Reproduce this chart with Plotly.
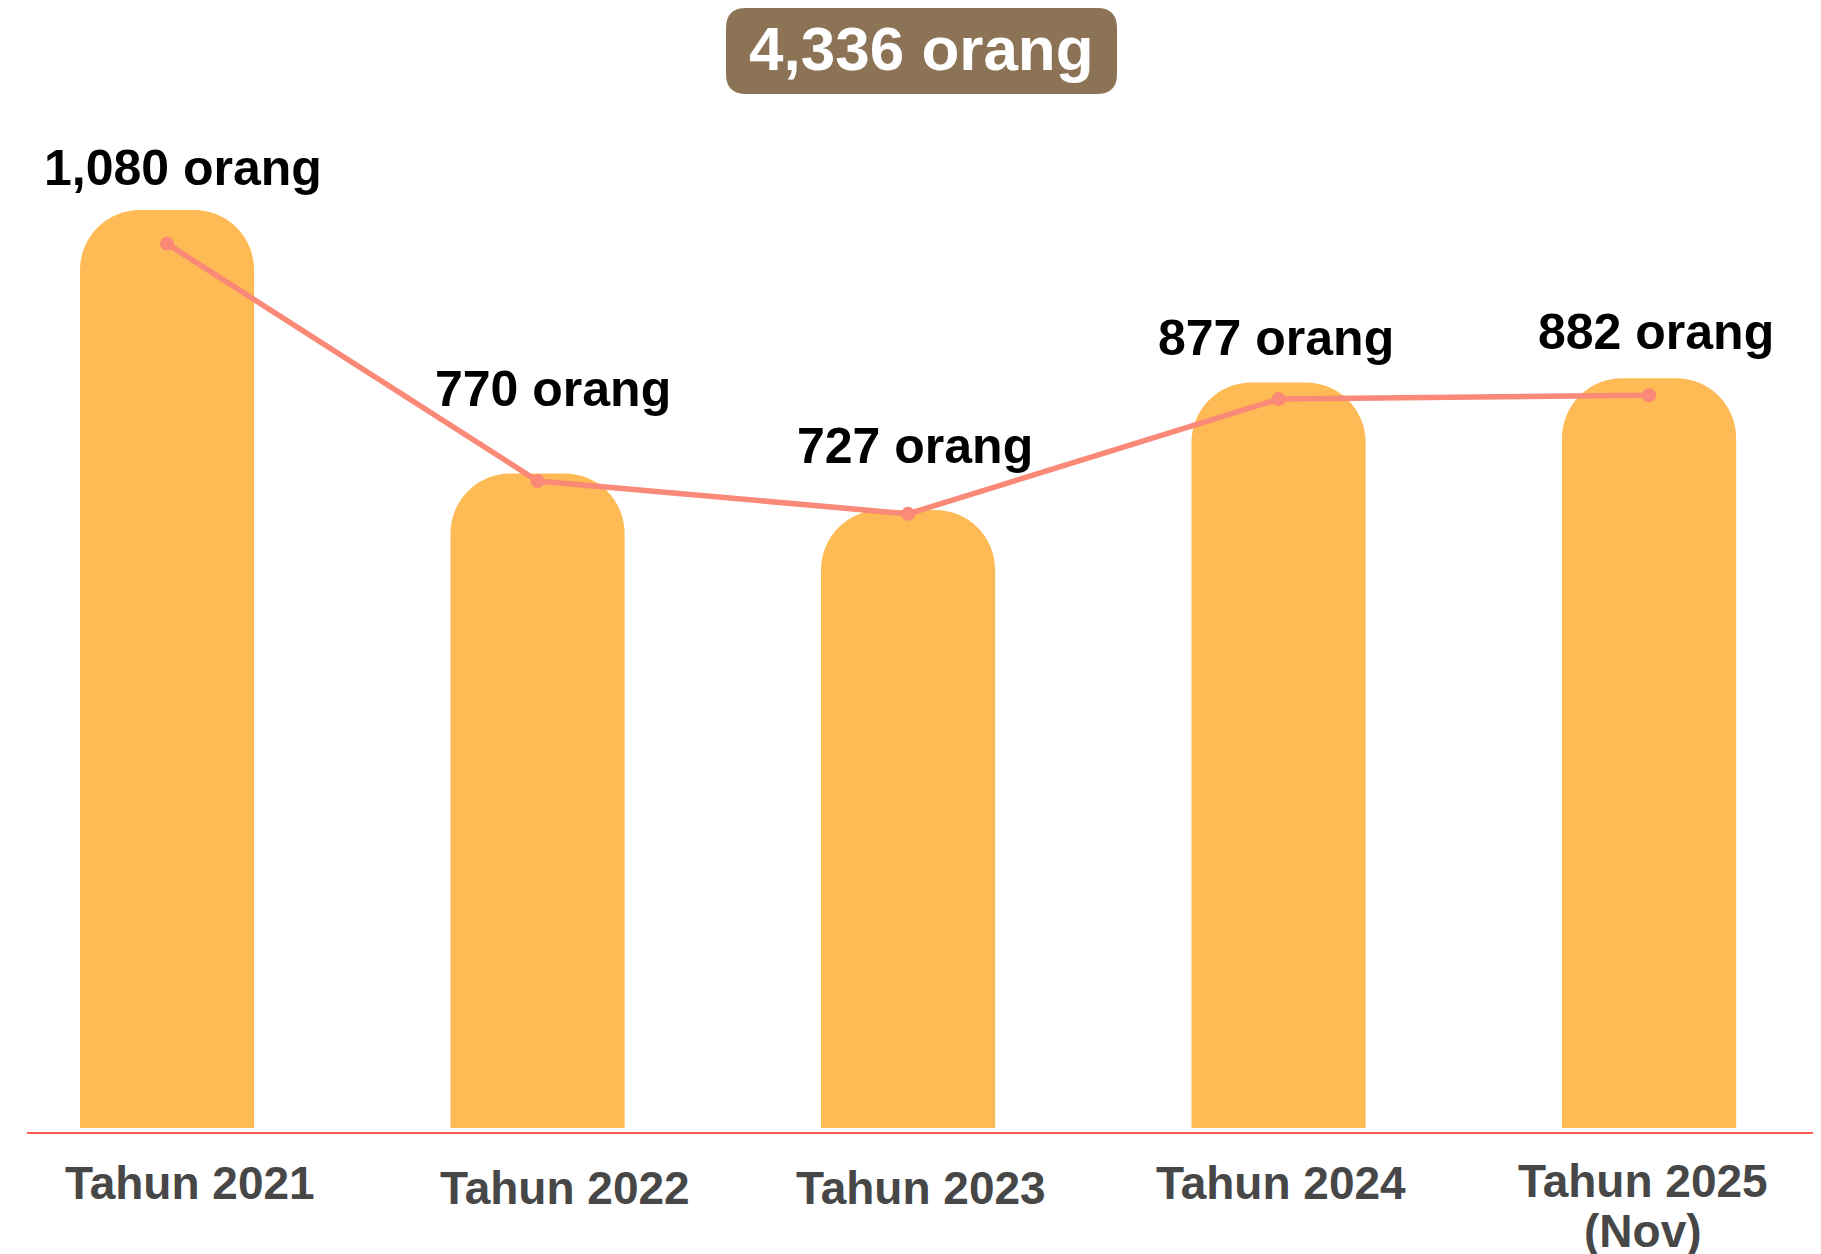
import plotly.graph_objects as go

categories = ["Tahun 2021", "Tahun 2022", "Tahun 2023", "Tahun 2024", "Tahun 2025<br>(Nov)"]
values = [1080, 770, 727, 877, 882]
unit = "orang"

# page has an 8px body margin; figure sized to fit the window
OFF = 8
W, H = 1821 - OFF, 1254 - OFF
AXIS_Y = 1132            # page y of the baseline
PLOT_TOP = 108           # page y of plot-area top
ML, MR, MT, MB = 27 - OFF, 0, PLOT_TOP - OFF, 1254 - AXIS_Y
PW, PH = W - ML - MR, H - MT - MB

BAR_COLOR = "#FDBA55"
LINE_COLOR = "#FA8977"
AXIS_COLOR = "#FF5A4A"
BOX_COLOR = "#8C7356"
TICK_COLOR = "#474747"

fig = go.Figure()
xs = list(range(len(categories)))
fig.add_trace(go.Bar(x=xs, y=values, width=0.47, marker=dict(color=BAR_COLOR, line=dict(width=0)),
                     hoverinfo="skip", yaxis="y"))
fig.add_trace(go.Scatter(x=xs, y=values, mode="lines+markers", yaxis="y2",
                         line=dict(color=LINE_COLOR, width=5.5),
                         marker=dict(color=LINE_COLOR, size=14), hoverinfo="skip"))

# value labels
label_yshift = [42, 85, 64, 45, 46]
label_xshift = [16, 15, 7, -3, 7]
for i, v in enumerate(values):
    fig.add_annotation(x=xs[i], y=v, xref="x", yref="y", text=f"{v:,} {unit}",
                       showarrow=False, yanchor="middle", xanchor="center",
                       yshift=label_yshift[i], xshift=label_xshift[i],
                       font=dict(family="Liberation Sans, Arial, sans-serif", size=50,
                                 color="#000000", weight="bold"))

# category labels under the baseline
cat_xshift = [23, 27, 13, 2, -6]
cat_yshift = [-51, -56, -56, -51, -49]
LINE_GAP = 50
for i, cat in enumerate(categories):
    for j, line in enumerate(cat.split("<br>")):
        fig.add_annotation(x=xs[i], y=0, xref="x", yref="paper", text=line,
                           showarrow=False, xanchor="center", yanchor="middle",
                           xshift=cat_xshift[i], yshift=cat_yshift[i] - j * LINE_GAP,
                           font=dict(family="Liberation Sans, Arial, sans-serif", size=46,
                                     color=TICK_COLOR, weight="bold"))

# total box (page pixel coords -> paper)
def px2paper(px, py):
    return (px - OFF - ML) / PW, (H - MB - (py - OFF)) / PH

bx0, by0, bx1, by1, r = 726, OFF, 1117, 94, 20
def P(px, py):
    x, y = px2paper(px, py)
    return f"{x:.5f},{y:.5f}"
path = (f"M {P(bx0 + r, by0)} L {P(bx1 - r, by0)} Q {P(bx1, by0)} {P(bx1, by0 + r)} "
        f"L {P(bx1, by1 - r)} Q {P(bx1, by1)} {P(bx1 - r, by1)} "
        f"L {P(bx0 + r, by1)} Q {P(bx0, by1)} {P(bx0, by1 - r)} "
        f"L {P(bx0, by0 + r)} Q {P(bx0, by0)} {P(bx0 + r, by0)} Z")
fig.add_shape(type="path", path=path, xref="paper", yref="paper",
              fillcolor=BOX_COLOR, line=dict(width=0), layer="above")
tx, ty = px2paper((bx0 + bx1) / 2, 48)
fig.add_annotation(x=tx, y=ty, xref="paper", yref="paper", text=f"{sum(values):,} {unit}",
                   showarrow=False, xanchor="center", yanchor="middle",
                   font=dict(family="Liberation Sans, Arial, sans-serif", size=62,
                             color="#FFFFFF", weight="bold"))

fig.update_layout(
    width=W, height=H, margin=dict(l=ML, r=MR, t=MT, b=MB, autoexpand=False),
    paper_bgcolor="white", plot_bgcolor="white", showlegend=False,
    barcornerradius=60,
    xaxis=dict(range=[-0.378, 4.464], tickmode="array", tickvals=xs, showticklabels=False,
               showgrid=False, zeroline=False, showline=True, linecolor=AXIS_COLOR, linewidth=2,
               ticks="", automargin=False, fixedrange=True),
    yaxis=dict(range=[-4.7, 1200], visible=False, showgrid=False, zeroline=False),
    yaxis2=dict(range=[-81, 1257.5], overlaying="y", visible=False, showgrid=False, zeroline=False),
)

fig.write_html("out.html")
